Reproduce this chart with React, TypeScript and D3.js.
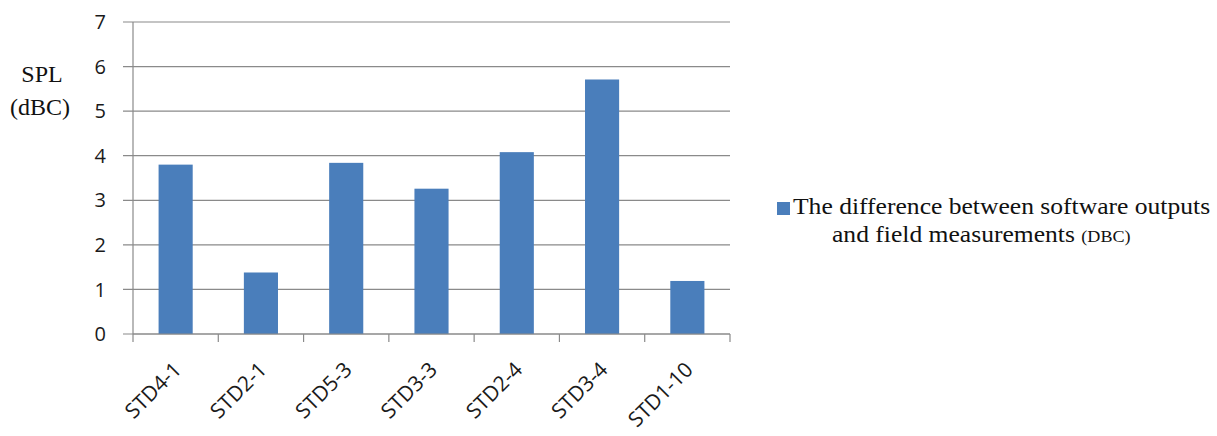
import React from "react";
import * as d3 from "d3";

// Stations and the measured-vs-modelled SPL difference (dBC)
const categories = ["STD4-1", "STD2-1", "STD5-3", "STD3-3", "STD2-4", "STD3-4", "STD1-10"];
const differences = [3.8, 1.38, 3.84, 3.26, 4.08, 5.71, 1.19];
const yTicks = [0, 1, 2, 3, 4, 5, 6, 7];
const seriesName = "The difference between software outputs";
const seriesNameLine2 = "and field measurements ";
const seriesUnit = "(DBC)";

const W = 1217;
const H = 436;
const plot = { left: 133, right: 730, top: 22, bottom: 334 };

const BAR = "#4a7ebb";
const GRID = "#8a8a8a";
const TICK_FONT = "'Open Sans', 'Liberation Sans', sans-serif";
const SERIF = "'Liberation Serif', 'Times New Roman', serif";

export default function App() {
  const y = d3.scaleLinear().domain([0, 7]).range([plot.bottom, plot.top]);
  const x = d3
    .scaleBand<string>()
    .domain(categories)
    .range([plot.left, plot.right])
    .paddingInner(0.6)
    .paddingOuter(0.3);
  const step = x.step();
  const boundaries = d3.range(categories.length + 1).map((i) => plot.left + i * step);

  return (
    <svg
      width={W}
      height={H}
      style={{ position: "absolute", left: 0, top: 0, background: "#fff" }}
    >
      {/* horizontal gridlines with outer ticks */}
      {yTicks.map((t) => (
        <line
          key={"g" + t}
          x1={plot.left - 10}
          x2={plot.right}
          y1={y(t)}
          y2={y(t)}
          stroke={GRID}
          strokeWidth={1.2}
        />
      ))}
      {/* y tick labels */}
      {yTicks.map((t) => (
        <text
          key={"yl" + t}
          x={106}
          y={y(t)}
          dy="0.36em"
          textAnchor="end"
          fontFamily={TICK_FONT}
          fontSize={20}
          fill="#1a1a1a"
        >
          {t}
        </text>
      ))}
      {/* bars */}
      {categories.map((c, i) => (
        <rect
          key={c}
          x={x(c)}
          y={y(differences[i])}
          width={x.bandwidth()}
          height={y(0) - y(differences[i])}
          fill={BAR}
        />
      ))}
      {/* value axis line */}
      <line x1={plot.left} x2={plot.left} y1={plot.top} y2={plot.bottom} stroke={GRID} strokeWidth={1.2} />
      {/* category axis line and ticks */}
      <line x1={plot.left} x2={plot.right} y1={plot.bottom} y2={plot.bottom} stroke={GRID} strokeWidth={1.2} />
      {boundaries.map((bx, i) => (
        <line key={"xt" + i} x1={bx} x2={bx} y1={plot.bottom} y2={plot.bottom + 8} stroke={GRID} strokeWidth={1.2} />
      ))}
      {/* rotated category labels */}
      {categories.map((c) => {
        const cx = (x(c) as number) + x.bandwidth() / 2;
        return (
          <text
            key={"xl" + c}
            transform={`translate(${cx + 7},${plot.bottom + 37}) rotate(-45)`}
            textAnchor="end"
            fontFamily={TICK_FONT}
            fontSize={21}
            fill="#1a1a1a"
          >
            {c}
          </text>
        );
      })}
      {/* value axis title */}
      <text x={42} y={82} textAnchor="middle" fontFamily={SERIF} fontSize={24} fill="#111">
        SPL
      </text>
      <text x={40} y={115} textAnchor="middle" fontFamily={SERIF} fontSize={24} fill="#111">
        (dBC)
      </text>
      {/* legend */}
      <rect x={777} y={202} width={13} height={13} fill={BAR} />
      <g transform="translate(793,0) scale(1.066,1)">
        <text x={0} y={214} fontFamily={SERIF} fontSize={24} fill="#111">
          {seriesName}
        </text>
        <text x={36.6} y={242} fontFamily={SERIF} fontSize={24} fill="#111">
          {seriesNameLine2}
          <tspan fontSize={17}>{seriesUnit}</tspan>
        </text>
      </g>
    </svg>
  );
}
